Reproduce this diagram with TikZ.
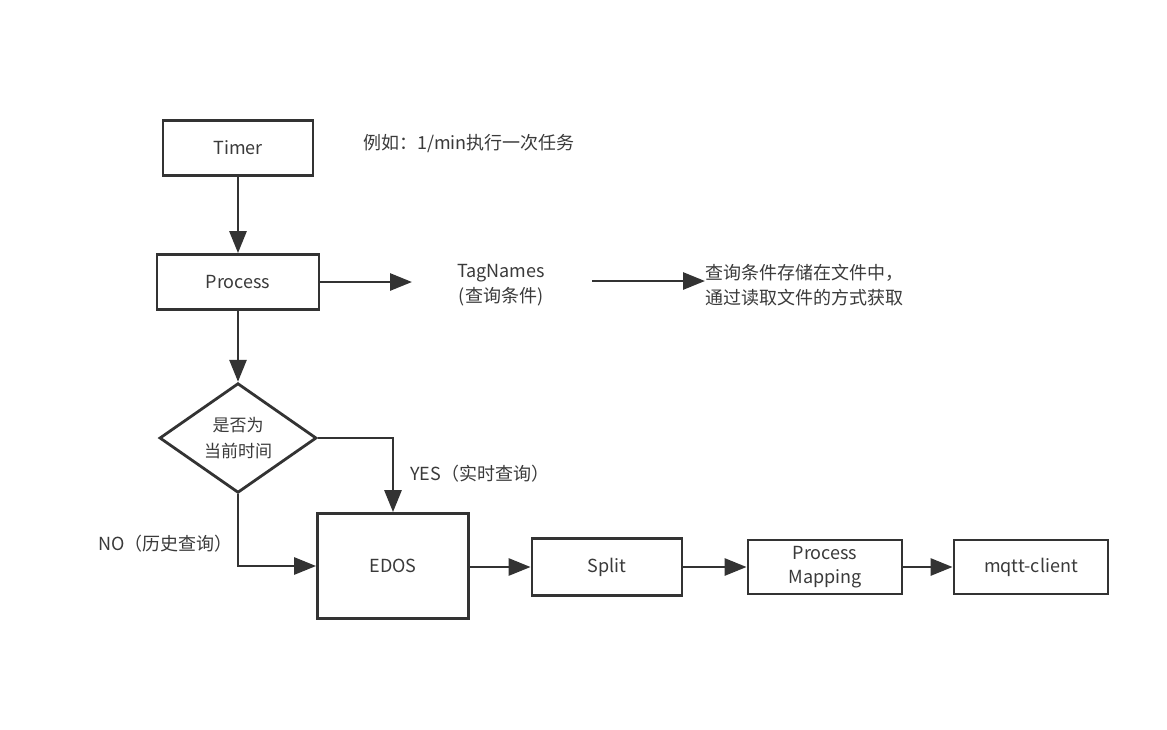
\documentclass[tikz,border=0pt]{standalone}
\usepackage{fontspec}
\setmainfont{Noto Sans CJK SC}
\usetikzlibrary{arrows.meta,shapes.geometric}
\definecolor{ink}{HTML}{333333}
\definecolor{txt}{HTML}{3A3A3A}
\begin{document}
\begin{tikzpicture}[x=1pt,y=-1pt,
  every node/.style={font=\fontsize{18}{25}\selectfont, text=txt, inner sep=0pt},
  box/.style={draw=ink, line width=2.8pt, rectangle, align=center},
  dec/.style={draw=ink, line width=2.8pt, diamond, align=center},
  link/.style={draw=ink, line width=2.8pt, -{Triangle[length=22pt,width=17pt]}},
  plain/.style={align=left}]
\useasboundingbox (0,0) rectangle (1167,729);
\fill[white] (0,0) rectangle (1167,729);

% main chain
\node[box, minimum width=150pt, minimum height=55pt] (timer) at (238,148) {Timer};
\node[box, minimum width=162pt, minimum height=55pt] (proc) at (238,282) {Process};
\node[align=center] (tags) at (501,285) {TagNames\\(查询条件)};
\node[plain, anchor=west] (store) at (705,285) {查询条件存储在文件中，\\通过读取文件的方式获取};
\node[plain, anchor=west] (note) at (363,144) {例如：1/min执行一次任务};

% free ends of the TagNames links
\coordinate (tagsin) at (412,282);
\coordinate (tagsout) at (592,281);

% decision
\node[dec, minimum width=157pt, minimum height=109pt, font=\fontsize{17}{26}\selectfont] (chk) at (238,438) {是否为\\当前时间};

% processing row
\node[box, minimum width=151pt, minimum height=105pt] (edos) at (393,566) {EDOS};
\node[box, minimum width=150pt, minimum height=57pt] (split) at (607,567) {Split};
\node[box, minimum width=154pt, minimum height=54pt, font=\fontsize{18}{24}\selectfont] (pm) at (825,567) {Process\\Mapping};
\node[box, minimum width=154pt, minimum height=54pt] (mqtt) at (1031,567) {mqtt-client};

% branch labels
\node[plain, anchor=west] (yes) at (410,474) {YES（实时查询）};
\node[plain, anchor=east] (no) at (233,544) {NO（历史查询）};

% connectors
\draw[link] (timer.south) -- (proc.north);
\draw[link] (proc.east) -- (tagsin);
\draw[link] (tagsout) -- (store.west |- tagsout);
\draw[link] (proc.south) -- (chk.north);
\draw[link] (chk.east) -| (edos.north);
\draw[link] (chk.south) |- (edos.west);
\draw[link] (edos.east |- split.west) -- (split.west);
\draw[link] (split.east) -- (pm.west);
\draw[link] (pm.east) -- (mqtt.west);
\end{tikzpicture}
\end{document}
